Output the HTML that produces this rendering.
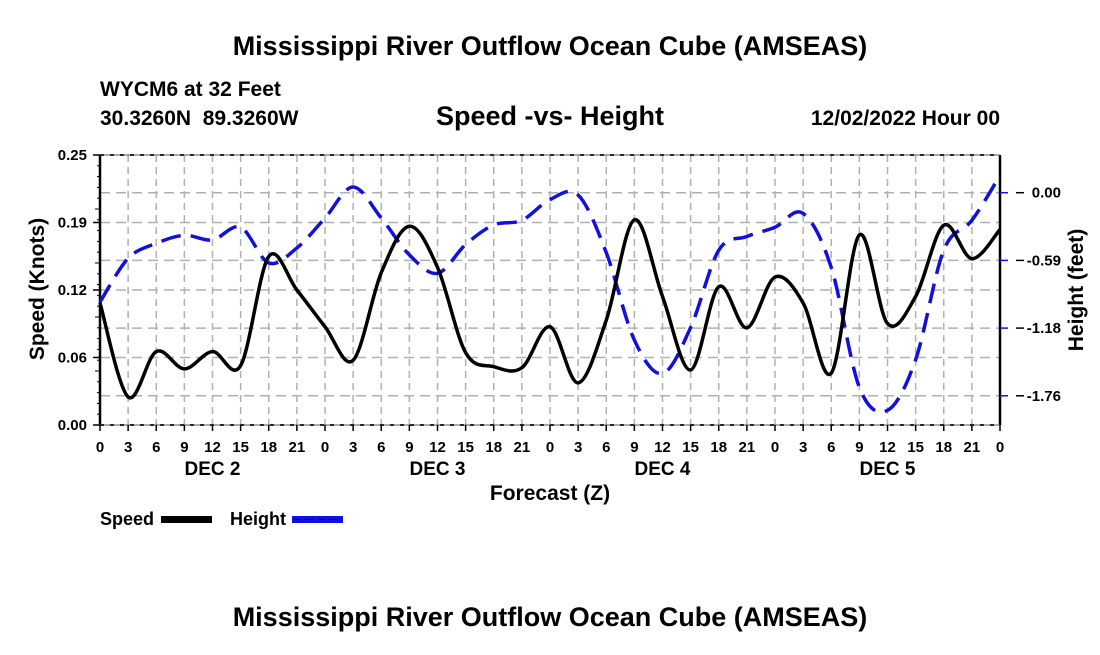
<!DOCTYPE html>
<html><head><meta charset="utf-8"><style>
body{margin:0;background:#fff;width:1100px;height:650px;overflow:hidden;font-family:"Liberation Sans",Arial,sans-serif}
svg text{font-family:"Liberation Sans",Arial,sans-serif;font-weight:bold;fill:#000}
</style></head><body>
<svg id="chart" width="1100" height="650" viewBox="0 0 1100 650">
<text x="550" y="55" font-size="27" text-anchor="middle">Mississippi River Outflow Ocean Cube (AMSEAS)</text>
<text x="100" y="96" font-size="21">WYCM6 at 32 Feet</text>
<text x="100" y="125" font-size="21" xml:space="preserve">30.3260N  89.3260W</text>
<text x="550" y="125" font-size="27" text-anchor="middle">Speed -vs- Height</text>
<text x="1000" y="125" font-size="21" text-anchor="end">12/02/2022 Hour 00</text>
<g id="grid"></g>
<g id="axes"></g>
<g id="series"></g>
<text transform="translate(44,289) rotate(-90)" font-size="21" text-anchor="middle">Speed (Knots)</text>
<text transform="translate(1083,290) rotate(-90)" font-size="21" text-anchor="middle">Height (feet)</text>
<text x="550" y="500" font-size="21" text-anchor="middle">Forecast (Z)</text>
<g>
<text x="100" y="525" font-size="18">Speed</text>
<rect x="161" y="516" width="51" height="7" fill="#000"/>
<text x="230" y="525" font-size="18">Height</text>
<rect x="292" y="516" width="51" height="7" fill="#1010e0"/>
<line x1="294" y1="519.5" x2="342" y2="519.5" stroke="#000050" stroke-width="1" stroke-dasharray="7,5"/>
</g>
<text x="550" y="626" font-size="27" text-anchor="middle">Mississippi River Outflow Ocean Cube (AMSEAS)</text>
</svg>
<script>
const hours = [0,3,6,9,12,15,18,21,24,27,30,33,36,39,42,45,48,51,54,57,60,63,66,69,72,75,78,81,84,87,90,93,96];
const speed = [0.113,0.026,0.068,0.052,0.068,0.055,0.156,0.125,0.091,0.060,0.141,0.184,0.146,0.067,0.054,0.053,0.091,0.039,0.097,0.190,0.119,0.051,0.128,0.090,0.137,0.113,0.048,0.176,0.094,0.119,0.185,0.154,0.181];
const height = [-0.95,-0.57,-0.44,-0.37,-0.41,-0.30,-0.61,-0.48,-0.22,0.05,-0.22,-0.54,-0.70,-0.45,-0.28,-0.24,-0.06,-0.02,-0.52,-1.28,-1.57,-1.17,-0.50,-0.38,-0.30,-0.18,-0.65,-1.69,-1.89,-1.45,-0.50,-0.24,0.15];
const leftTicks = [0,0.0625,0.125,0.1875,0.25];
const leftLabels = ["0.00","0.06","0.12","0.19","0.25"];
const rightTicks = [0,-0.588,-1.176,-1.764];
const rightLabels = ["0.00","-0.59","-1.18","-1.76"];
const dayLabels = ["DEC 2","DEC 3","DEC 4","DEC 5"];

const X0=100,X1=1000,Y0=155,Y1=425;
const xs=h=>X0+(h/96)*(X1-X0);
const ys=v=>Y1-(v/0.25)*(Y1-Y0);
const yh=v=>192.7-(v/0.588)*67.7;
const NS="http://www.w3.org/2000/svg";
function mk(tag,attrs,parent){const e=document.createElementNS(NS,tag);for(const k in attrs)e.setAttribute(k,attrs[k]);parent.appendChild(e);return e;}
const grid=document.getElementById('grid'),axes=document.getElementById('axes'),series=document.getElementById('series');
for(let h=3;h<96;h+=3){const l=mk('line',{x1:xs(h),x2:xs(h),y1:Y0,y2:Y1,stroke:'#b0b0b0','stroke-width':1.5,'stroke-dasharray':'7,5'},grid);

}
leftTicks.slice(1,-1).forEach(v=>{const l=mk('line',{x1:X0,x2:X1,y1:ys(v),y2:ys(v),stroke:'#b0b0b0','stroke-width':1.5,'stroke-dasharray':'10,6'},grid);

});
rightTicks.forEach(v=>{const l=mk('line',{x1:X0,x2:X1,y1:yh(v),y2:yh(v),stroke:'#b0b0b0','stroke-width':1.5,'stroke-dasharray':'10,6'},grid);

});
mk('line',{x1:X0,x2:X0,y1:Y0,y2:Y1,stroke:'#000','stroke-width':2.5},axes);
mk('line',{x1:X1,x2:X1,y1:Y0,y2:Y1,stroke:'#000','stroke-width':2.5},axes);
mk('line',{x1:X0,x2:X1,y1:Y0,y2:Y0,stroke:'#000','stroke-width':2,'stroke-dasharray':'4,6'},axes);
mk('line',{x1:X0,x2:X1,y1:Y1,y2:Y1,stroke:'#000','stroke-width':2,'stroke-dasharray':'4,6'},axes);
mk('line',{x1:X0,x2:X1,y1:Y0,y2:Y0,stroke:'#555','stroke-width':1},axes);
mk('line',{x1:X0,x2:X1,y1:Y1,y2:Y1,stroke:'#555','stroke-width':1},axes);
for(let i=0;i<=25;i++){const v=i*0.01;mk('line',{x1:X0-(i%5==0?5:3),x2:X0,y1:ys(v),y2:ys(v),stroke:'#000','stroke-width':1},axes);}
leftTicks.forEach((v,i)=>{mk('line',{x1:X0-7,x2:X0,y1:ys(v),y2:ys(v),stroke:'#000','stroke-width':1.5},axes);
const t=mk('text',{x:X0-13,y:ys(v)+5,'font-size':15,'text-anchor':'end'},axes);t.textContent=leftLabels[i];

});
rightTicks.forEach((v,i)=>{mk('line',{x1:X1,x2:X1+8,y1:yh(v),y2:yh(v),stroke:'#1010e0','stroke-width':1.5},axes);
mk('line',{x1:X1+16,x2:X1+24,y1:yh(v),y2:yh(v),stroke:'#000','stroke-width':1.5},axes);
const t=mk('text',{x:1061,y:yh(v)+5,'font-size':15,'text-anchor':'end'},axes);t.textContent=rightLabels[i];

});
for(let h=0;h<=96;h+=3){mk('line',{x1:xs(h),x2:xs(h),y1:Y1,y2:Y1+6,stroke:'#000','stroke-width':1.5},axes);
const t=mk('text',{x:xs(h),y:452,'font-size':15,'text-anchor':'middle'},axes);t.textContent=String(h%24);

}
dayLabels.forEach((d,i)=>{const t=mk('text',{x:xs(i*24+12),y:475,'font-size':19,'text-anchor':'middle'},axes);t.textContent=d;

});
function smooth(pts){let d='M'+pts[0][0]+','+pts[0][1];
for(let i=0;i<pts.length-1;i++){const p0=pts[i-1]||pts[i],p1=pts[i],p2=pts[i+1],p3=pts[i+2]||p2;
d+=' C'+(p1[0]+(p2[0]-p0[0])/6)+','+(p1[1]+(p2[1]-p0[1])/6)+' '+(p2[0]-(p3[0]-p1[0])/6)+','+(p2[1]-(p3[1]-p1[1])/6)+' '+p2[0]+','+p2[1];}
return d;}
const hp=mk('path',{d:smooth(hours.map((h,i)=>[xs(h),yh(height[i])])),fill:'none',stroke:'#1010e0','stroke-width':3.5,'stroke-dasharray':'20,10'},series);


const sp=mk('path',{d:smooth(hours.map((h,i)=>[xs(h),ys(speed[i])])),fill:'none',stroke:'#000','stroke-width':3.5},series);


</script>
</body></html>
